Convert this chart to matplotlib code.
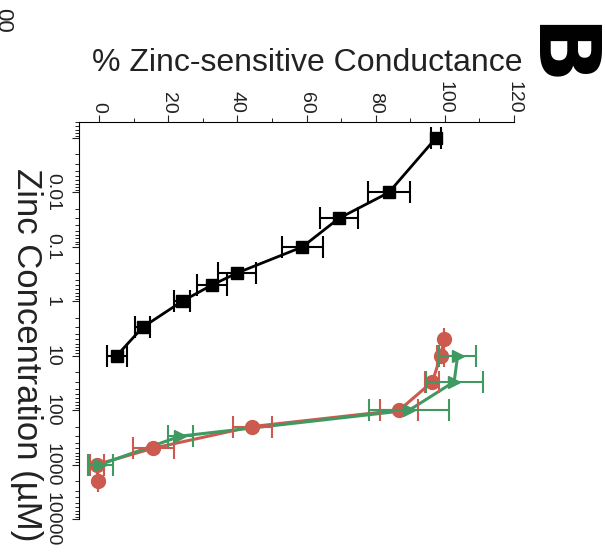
import matplotlib
matplotlib.use('Agg')
import matplotlib.pyplot as plt
from matplotlib.ticker import FixedLocator, FixedFormatter, LogLocator, NullFormatter

plt.rcParams['font.family'] = ['Liberation Sans', 'DejaVu Sans']

# black squares (zinc concentration in uM, % conductance, error)
conc_black = [0.001, 0.01, 0.03, 0.1, 0.3, 0.5, 1, 3, 10]
pct_black = [97.4, 83.8, 69.3, 58.8, 40.0, 32.7, 24.0, 12.6, 5.1]
err_black = [1.5, 6.0, 5.5, 6.0, 5.5, 4.3, 2.4, 2.2, 2.9]

# red circles
conc_red = [5, 10, 30, 100, 200, 500, 1000, 2000]
pct_red = [99.8, 98.8, 96.4, 86.8, 44.3, 15.7, -0.7, -0.2]
err_red = [0.0, 1.0, 2.0, 5.5, 5.7, 6.0, 2.0, 0.0]

# green triangles
conc_green = [10, 30, 100, 300, 1000]
pct_green = [103.7, 102.7, 89.7, 23.5, 0.3]
err_green = [5.3, 8.2, 11.6, 3.6, 3.6]

y_ticks = [0.001, 0.01, 0.1, 1, 10, 100, 1000, 10000]
y_labels = ['', '0.01', '0.1', '1', '10', '100', '1000', '10000']

red = '#cc5a4e'
green = '#3f9a62'

fig = plt.figure(figsize=(6.05, 5.59), dpi=100)
ax = fig.add_axes([79/605, 1 - 519/559, (514 - 79)/605, (519 - 121.7)/559])

# curves
ax.plot(pct_black, conc_black, color='k', lw=2, zorder=2)
ax.plot(pct_red, conc_red, color=red, lw=2.2, zorder=2)
ax.plot(pct_green, conc_green, color=green, lw=2.2, zorder=3)

ax.errorbar(pct_black, conc_black, xerr=err_black, fmt='s', color='k', ms=9,
            capsize=8, elinewidth=1.5, capthick=1.5, zorder=4)
ax.errorbar(pct_red, conc_red, xerr=err_red, fmt='o', color=red, ms=10,
            capsize=8, elinewidth=1.5, capthick=1.5, zorder=4)
ax.errorbar(pct_green, conc_green, xerr=err_green, fmt='>', color=green, ms=9,
            capsize=8, elinewidth=1.5, capthick=1.5, zorder=5)

ax.set_yscale('log')
ax.set_ylim(1e4, 5e-4)
ax.set_xlim(-5.8, 120)

ax.xaxis.tick_top()
ax.spines['right'].set_visible(False)
ax.spines['bottom'].set_visible(False)

ax.set_xticks(range(0, 121, 20))
ax.set_xticks(range(10, 120, 20), minor=True)
ax.tick_params(axis='x', which='major', labelrotation=-90, labelsize=14,
               length=5, pad=1, colors='#222222')
ax.tick_params(axis='x', which='minor', length=3)

ax.yaxis.set_major_locator(FixedLocator(y_ticks))
ax.yaxis.set_major_formatter(FixedFormatter(y_labels))
ax.yaxis.set_minor_locator(LogLocator(base=10, subs=range(2, 10), numticks=20))
ax.yaxis.set_minor_formatter(NullFormatter())
ax.tick_params(axis='y', which='major', labelrotation=-90, labelsize=14,
               length=5, pad=8, colors='#222222')
ax.tick_params(axis='y', which='minor', length=3)
for lab in ax.get_yticklabels():
    lab.set_va('center')

fig.text(307/605, 1 - 63/559, '% Zinc-sensitive Conductance', ha='center',
         va='center', fontsize=23, color='#222222')
fig.text(26/605, 1 - 355/559, 'Zinc Concentration (µM)', rotation=-90,
         ha='center', va='center', fontsize=25, color='#222222')
fig.text(555/605, 1 - 56/559, 'B', rotation=-90, ha='center', va='center',
         fontsize=62, fontweight='bold', family='DejaVu Sans', color='k')
fig.text(3/605, 1 - 20/559, '00', rotation=-90, ha='center', va='center',
         fontsize=16, color='#222222')

fig.savefig('out.png', dpi=100)
